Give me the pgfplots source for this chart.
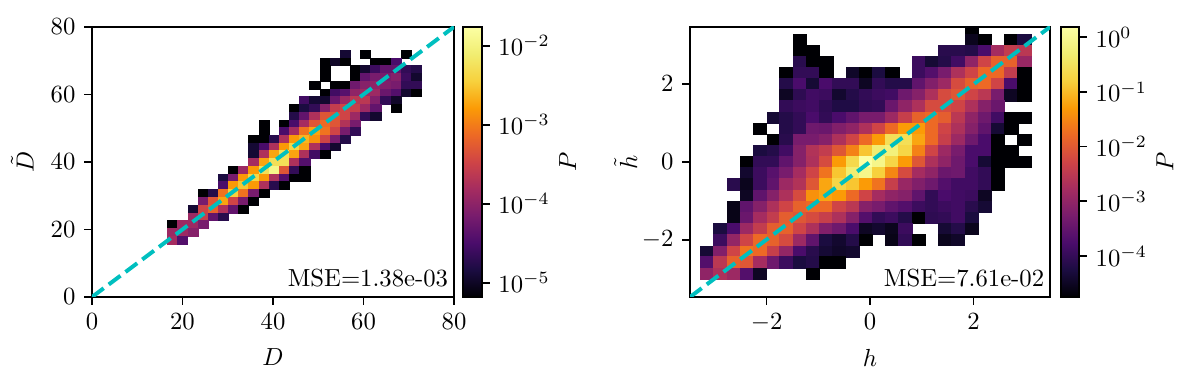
\documentclass[border=0pt]{standalone}
\usepackage{pgfplots}
\pgfplotsset{compat=1.18}

% rectangles the size of one histogram bin
\pgfdeclareplotmark{binD}{\pgfpathrectangle{\pgfpoint{-2.056pt}{-1.568pt}}{\pgfpoint{4.112pt}{3.136pt}}\pgfusepathqfillstroke}
\pgfdeclareplotmark{binH}{\pgfpathrectangle{\pgfpoint{-2.677pt}{-2.254pt}}{\pgfpoint{5.354pt}{4.508pt}}\pgfusepathqfillstroke}

\pgfplotsset{
  colormap={inferno}{rgb255=(0,0,4) rgb255=(27,12,65) rgb255=(74,12,107) rgb255=(120,28,109)
    rgb255=(165,44,96) rgb255=(207,68,70) rgb255=(237,105,37) rgb255=(251,155,6)
    rgb255=(247,209,61) rgb255=(241,237,113) rgb255=(252,255,164)},
  panel/.style={
    scale only axis,
    colormap name=inferno,
    axis line style={line width=0.7pt},
    tick style={line width=0.7pt, black},
    major tick length=3.2pt,
    tick align=outside,
    xtick pos=bottom, ytick pos=left,
    clip mode=individual,
    clip marker paths=true,
    colorbar,
    point meta=explicit,
  },
  cbar/.style={
    at={(parent axis.south east)}, anchor=south west,
    height=109.3pt,
    axis line style={line width=0.7pt},
    tick style={line width=0.7pt, black},
    major tick length=3.2pt,
    tick align=outside,
    ytick pos=right,
    ylabel={$P$},
    ylabel shift=-3pt,
  },
  bins/.style={only marks, scatter, mark=#1,
    scatter/use mapped color={draw=mapped color, fill=mapped color},
    mark options={line width=0.15pt}},
  ident/.style={line width=1.6pt, color={rgb,255:red,0;green,191;blue,191},
    dash pattern=on 5.9pt off 2.56pt, forget plot},
}

\begin{document}
\begin{tikzpicture}
\useasboundingbox (0,0) rectangle (484pt,156.6pt);

\begin{axis}[panel,
    at={(37.23pt,36.42pt)}, anchor=south west,
    width=146.5pt, height=109.3pt,
    xmin=0, xmax=80, ymin=0, ymax=80,
    xtick={0,20,40,60,80}, ytick={0,20,40,60,80},
    xlabel={$D$}, ylabel={$\tilde{D}$},
    xlabel style={yshift=-1pt},
    point meta min=-5.18, point meta max=-1.76,
    colorbar style={cbar, xshift=-5.0pt, width=7.7pt,
      ytick={-5,-4,-3,-2},
      yticklabels={$10^{-5}$,$10^{-4}$,$10^{-3}$,$10^{-2}$},
    },
]
\addplot[bins=binD] coordinates {
(56.0,72.0)[-4.91] (60.4,72.0)[-5.18] (69.4,72.0)[-5.18]
(51.5,69.7)[-5.18] (53.7,69.7)[-4.97] (56.0,69.7)[-5.18] (62.7,69.7)[-5.18] (64.9,69.7)[-5.18] (67.2,69.7)[-4.50]
(51.5,67.4)[-5.18] (58.2,67.4)[-5.18] (60.4,67.4)[-4.94] (62.7,67.4)[-4.60] (64.9,67.4)[-4.32] (67.2,67.4)[-4.32] (69.4,67.4)[-4.67] (71.7,67.4)[-4.77]
(51.5,65.1)[-5.18] (58.2,65.1)[-5.18] (60.4,65.1)[-4.32] (62.7,65.1)[-4.15] (64.9,65.1)[-4.15] (67.2,65.1)[-4.05] (69.4,65.1)[-4.60] (71.7,65.1)[-4.94]
(49.2,62.8)[-5.18] (53.7,62.8)[-5.18] (56.0,62.8)[-5.18] (58.2,62.8)[-4.22] (60.4,62.8)[-4.05] (62.7,62.8)[-3.98] (64.9,62.8)[-4.09] (67.2,62.8)[-4.15] (69.4,62.8)[-4.67] (71.7,62.8)[-4.67]
(51.5,60.5)[-5.18] (53.7,60.5)[-4.56] (56.0,60.5)[-4.39] (58.2,60.5)[-3.98] (60.4,60.5)[-3.88] (62.7,60.5)[-3.88] (64.9,60.5)[-4.26] (67.2,60.5)[-4.43] (69.4,60.5)[-4.94] (71.7,60.5)[-5.18]
(47.0,58.2)[-4.56] (49.2,58.2)[-4.91] (51.5,58.2)[-4.94] (53.7,58.2)[-4.26] (56.0,58.2)[-3.88] (58.2,58.2)[-3.64] (60.4,58.2)[-3.64] (62.7,58.2)[-4.09] (64.9,58.2)[-4.67] (67.2,58.2)[-4.97]
(44.7,55.9)[-5.18] (47.0,55.9)[-4.84] (49.2,55.9)[-4.67] (51.5,55.9)[-4.05] (53.7,55.9)[-3.57] (56.0,55.9)[-3.47] (58.2,55.9)[-3.54] (60.4,55.9)[-3.88] (62.7,55.9)[-4.32] (67.2,55.9)[-5.18]
(44.7,53.6)[-4.77] (47.0,53.6)[-4.32] (49.2,53.6)[-3.74] (51.5,53.6)[-3.30] (53.7,53.6)[-3.30] (56.0,53.6)[-3.47] (58.2,53.6)[-3.88] (60.4,53.6)[-4.67] (62.7,53.6)[-4.94]
(38.0,51.3)[-5.18] (42.5,51.3)[-5.18] (44.7,51.3)[-4.50] (47.0,51.3)[-3.81] (49.2,51.3)[-3.30] (51.5,51.3)[-3.13] (53.7,51.3)[-3.30] (56.0,51.3)[-3.71] (58.2,51.3)[-4.15]
(38.0,49.0)[-5.18] (42.5,49.0)[-4.50] (44.7,49.0)[-3.81] (47.0,49.0)[-3.06] (49.2,49.0)[-2.72] (51.5,49.0)[-3.06] (53.7,49.0)[-3.47] (56.0,49.0)[-4.15] (58.2,49.0)[-4.67]
(35.7,46.8)[-5.18] (38.0,46.8)[-5.18] (40.2,46.8)[-4.74] (42.5,46.8)[-3.74] (44.7,46.8)[-2.79] (47.0,46.8)[-2.62] (49.2,46.8)[-2.85] (51.5,46.8)[-3.47] (53.7,46.8)[-4.15] (56.0,46.8)[-4.77]
(35.7,44.5)[-4.91] (38.0,44.5)[-4.50] (40.2,44.5)[-3.74] (42.5,44.5)[-2.79] (44.7,44.5)[-2.38] (47.0,44.5)[-2.72] (49.2,44.5)[-3.74] (51.5,44.5)[-4.50] (53.7,44.5)[-4.94]
(35.7,42.2)[-4.91] (38.0,42.2)[-3.74] (40.2,42.2)[-2.72] (42.5,42.2)[-2.27] (44.7,42.2)[-2.72] (47.0,42.2)[-3.74] (49.2,42.2)[-4.56] (51.5,42.2)[-5.18]
(35.7,39.9)[-3.81] (38.0,39.9)[-2.72] (40.2,39.9)[-2.27] (42.5,39.9)[-2.27] (44.7,39.9)[-3.74] (47.0,39.9)[-4.43]
(31.2,37.6)[-5.18] (33.5,37.6)[-3.88] (35.7,37.6)[-2.79] (38.0,37.6)[-2.27] (40.2,37.6)[-1.93] (42.5,37.6)[-3.30] (44.7,37.6)[-4.67] (47.0,37.6)[-5.18]
(29.0,35.3)[-4.84] (31.2,35.3)[-4.15] (33.5,35.3)[-2.79] (35.7,35.3)[-2.38] (38.0,35.3)[-2.79] (40.2,35.3)[-3.74] (42.5,35.3)[-4.43] (44.7,35.3)[-5.18] (47.0,35.3)[-5.18]
(29.0,33.0)[-4.50] (31.2,33.0)[-2.79] (33.5,33.0)[-2.51] (35.7,33.0)[-2.79] (38.0,33.0)[-3.74] (40.2,33.0)[-4.74] (42.5,33.0)[-5.18]
(24.5,30.7)[-5.18] (26.8,30.7)[-4.77] (29.0,30.7)[-3.06] (31.2,30.7)[-2.44] (33.5,30.7)[-3.06] (35.7,30.7)[-4.15] (38.0,30.7)[-5.18]
(24.5,28.4)[-4.15] (26.8,28.4)[-3.30] (29.0,28.4)[-2.72] (31.2,28.4)[-3.47] (33.5,28.4)[-4.15] (35.7,28.4)[-5.18]
(22.3,26.1)[-4.91] (24.5,26.1)[-3.47] (26.8,26.1)[-3.20] (29.0,26.1)[-3.74] (31.2,26.1)[-4.32] (33.5,26.1)[-5.18]
(22.3,23.8)[-3.88] (24.5,23.8)[-3.54] (26.8,23.8)[-4.32] (29.0,23.8)[-4.74]
(17.8,21.5)[-5.18] (20.0,21.5)[-3.88] (22.3,21.5)[-3.88] (24.5,21.5)[-4.15]
(17.8,19.2)[-3.88] (20.0,19.2)[-3.88] (22.3,19.2)[-4.05]
(17.8,16.9)[-3.81] (20.0,16.9)[-4.43]
};
\addplot[ident] coordinates {(0,0) (80,80)};
\node[anchor=south east, inner sep=0pt] at (rel axis cs:0.985,0.035) {MSE=1.38e-03};
\end{axis}

\begin{axis}[panel,
    at={(279.24pt,36.42pt)}, anchor=south west,
    width=145.7pt, height=109.3pt,
    xmin=-3.48, xmax=3.48, ymin=-3.46, ymax=3.46,
    xtick={-2,0,2}, ytick={-2,0,2},
    xlabel={$h$}, ylabel={$\tilde{h}$},
    xlabel style={yshift=-0.5pt},
    ylabel shift=-5pt,
    point meta min=-4.75, point meta max=0.19,
    colorbar style={cbar, xshift=-4.2pt, width=7.4pt,
      ytick={-4,-3,-2,-1,0},
      yticklabels={$10^{-4}$,$10^{-3}$,$10^{-2}$,$10^{-1}$,$10^{0}$},
    },
]
\addplot[bins=binH] coordinates {
(1.96,3.42)[-4.75]
(-1.36,3.14)[-4.75] (1.96,3.14)[-4.55] (2.22,3.14)[-4.75] (2.73,3.14)[-4.75] (2.98,3.14)[-4.26]
(-1.36,2.85)[-4.75] (-1.11,2.85)[-4.75] (1.45,2.85)[-4.11] (1.70,2.85)[-4.11] (1.96,2.85)[-4.16] (2.22,2.85)[-3.76] (2.47,2.85)[-2.77] (2.73,2.85)[-2.43] (2.98,2.85)[-2.53]
(-1.36,2.57)[-4.11] (-1.11,2.57)[-4.75] (-0.85,2.57)[-4.75] (0.94,2.57)[-3.91] (1.19,2.57)[-4.35] (1.45,2.57)[-4.16] (1.70,2.57)[-3.86] (1.96,2.57)[-3.02] (2.22,2.57)[-2.28] (2.47,2.57)[-1.88] (2.73,2.57)[-1.88] (2.98,2.57)[-2.92]
(-1.62,2.28)[-4.75] (-1.36,2.28)[-4.01] (-1.11,2.28)[-4.01] (-0.85,2.28)[-4.75] (-0.34,2.28)[-4.45] (-0.09,2.28)[-4.75] (0.17,2.28)[-4.26] (0.43,2.28)[-4.75] (0.94,2.28)[-3.91] (1.19,2.28)[-3.66] (1.45,2.28)[-3.27] (1.70,2.28)[-2.68] (1.96,2.28)[-2.28] (2.22,2.28)[-1.79] (2.47,2.28)[-1.79] (2.73,2.28)[-2.43] (2.98,2.28)[-4.75]
(-1.62,2.00)[-4.16] (-1.36,2.00)[-3.76] (-1.11,2.00)[-4.35] (-0.85,2.00)[-3.76] (-0.60,2.00)[-4.01] (-0.34,2.00)[-4.01] (-0.09,2.00)[-4.50] (0.17,2.00)[-4.01] (0.43,2.00)[-4.16] (0.68,2.00)[-4.16] (0.94,2.00)[-3.52] (1.19,2.00)[-3.17] (1.45,2.00)[-2.87] (1.70,2.00)[-2.18] (1.96,2.00)[-1.88] (2.22,2.00)[-1.79] (2.47,2.00)[-2.28] (2.73,2.00)[-3.76] (2.98,2.00)[-4.75]
(-1.62,1.71)[-4.50] (-1.36,1.71)[-4.06] (-1.11,1.71)[-3.86] (-0.85,1.71)[-3.91] (-0.60,1.71)[-4.40] (-0.34,1.71)[-4.16] (-0.09,1.71)[-4.01] (0.17,1.71)[-3.91] (0.43,1.71)[-3.86] (0.68,1.71)[-3.37] (0.94,1.71)[-3.12] (1.19,1.71)[-2.68] (1.45,1.71)[-2.18] (1.70,1.71)[-2.03] (1.96,1.71)[-2.28] (2.22,1.71)[-2.53] (2.47,1.71)[-3.27] (2.73,1.71)[-4.50] (2.98,1.71)[-4.75]
(-1.62,1.43)[-4.01] (-1.36,1.43)[-3.91] (-1.11,1.43)[-3.86] (-0.85,1.43)[-4.06] (-0.60,1.43)[-4.21] (-0.34,1.43)[-4.21] (-0.09,1.43)[-4.06] (0.17,1.43)[-4.01] (0.43,1.43)[-3.42] (0.68,1.43)[-3.02] (0.94,1.43)[-2.68] (1.19,1.43)[-2.18] (1.45,1.43)[-2.18] (1.70,1.43)[-2.28] (1.96,1.43)[-2.68] (2.22,1.43)[-3.12] (2.47,1.43)[-3.42]
(-1.87,1.14)[-4.35] (-1.62,1.14)[-4.16] (-1.36,1.14)[-4.01] (-1.11,1.14)[-3.76] (-0.85,1.14)[-4.01] (-0.60,1.14)[-3.76] (-0.34,1.14)[-3.52] (-0.09,1.14)[-3.27] (0.17,1.14)[-3.27] (0.43,1.14)[-2.87] (0.68,1.14)[-2.38] (0.94,1.14)[-1.88] (1.19,1.14)[-1.79] (1.45,1.14)[-1.93] (1.70,1.14)[-2.53] (1.96,1.14)[-3.02] (2.22,1.14)[-3.37] (2.47,1.14)[-3.86] (2.73,1.14)[-4.75] (2.98,1.14)[-4.75]
(-2.13,0.85)[-4.75] (-1.62,0.85)[-4.16] (-1.36,0.85)[-4.01] (-1.11,0.85)[-3.37] (-0.85,0.85)[-3.42] (-0.60,0.85)[-3.17] (-0.34,0.85)[-3.02] (-0.09,0.85)[-2.68] (0.17,0.85)[-2.28] (0.43,0.85)[-1.79] (0.68,0.85)[-1.29] (0.94,0.85)[-1.29] (1.19,0.85)[-1.79] (1.45,0.85)[-2.28] (1.70,0.85)[-2.68] (1.96,0.85)[-3.12] (2.22,0.85)[-3.52] (2.47,0.85)[-4.35] (2.73,0.85)[-4.75]
(-1.87,0.57)[-4.75] (-1.62,0.57)[-4.11] (-1.36,0.57)[-3.27] (-1.11,0.57)[-3.27] (-0.85,0.57)[-3.12] (-0.60,0.57)[-2.68] (-0.34,0.57)[-2.28] (-0.09,0.57)[-1.79] (0.17,0.57)[-1.29] (0.43,0.57)[-0.55] (0.68,0.57)[-0.55] (0.94,0.57)[-1.19] (1.19,0.57)[-1.79] (1.45,0.57)[-2.38] (1.70,0.57)[-2.87] (1.96,0.57)[-3.37] (2.22,0.57)[-3.76] (2.47,0.57)[-4.75] (2.98,0.57)[-4.75]
(-2.13,0.28)[-4.26] (-1.87,0.28)[-4.16] (-1.62,0.28)[-3.86] (-1.36,0.28)[-3.12] (-1.11,0.28)[-2.63] (-0.85,0.28)[-2.43] (-0.60,0.28)[-2.03] (-0.34,0.28)[-1.54] (-0.09,0.28)[-0.90] (0.17,0.28)[-0.30] (0.43,0.28)[-0.20] (0.68,0.28)[-0.70] (0.94,0.28)[-1.54] (1.19,0.28)[-2.28] (1.45,0.28)[-2.87] (1.70,0.28)[-3.27] (1.96,0.28)[-3.76] (2.22,0.28)[-3.76] (2.47,0.28)[-4.75] (2.73,0.28)[-4.75]
(-2.39,0.00)[-4.75] (-2.13,0.00)[-4.01] (-1.87,0.00)[-4.01] (-1.62,0.00)[-3.52] (-1.36,0.00)[-3.12] (-1.11,0.00)[-2.68] (-0.85,0.00)[-2.18] (-0.60,0.00)[-1.29] (-0.34,0.00)[-0.65] (-0.09,0.00)[0.19] (0.17,0.00)[-0.06] (0.43,0.00)[-0.70] (0.68,0.00)[-1.29] (0.94,0.00)[-2.03] (1.19,0.00)[-2.68] (1.45,0.00)[-3.02] (1.70,0.00)[-3.37] (1.96,0.00)[-3.76] (2.22,0.00)[-4.35] (2.47,0.00)[-4.75] (2.73,0.00)[-4.75] (2.98,0.00)[-4.75]
(-2.39,-0.29)[-4.40] (-2.13,-0.29)[-3.91] (-1.87,-0.29)[-3.61] (-1.62,-0.29)[-3.27] (-1.36,-0.29)[-2.77] (-1.11,-0.29)[-2.28] (-0.85,-0.29)[-1.69] (-0.60,-0.29)[-0.90] (-0.34,-0.29)[-0.30] (-0.09,-0.29)[-0.06] (0.17,-0.29)[-0.80] (0.43,-0.29)[-1.49] (0.68,-0.29)[-2.18] (0.94,-0.29)[-2.77] (1.19,-0.29)[-3.02] (1.45,-0.29)[-3.42] (1.70,-0.29)[-3.37] (1.96,-0.29)[-3.86] (2.22,-0.29)[-4.01] (2.47,-0.29)[-4.75]
(-2.64,-0.57)[-4.11] (-2.39,-0.57)[-4.55] (-2.13,-0.57)[-3.91] (-1.87,-0.57)[-3.52] (-1.62,-0.57)[-2.87] (-1.36,-0.57)[-2.63] (-1.11,-0.57)[-2.03] (-0.85,-0.57)[-1.19] (-0.60,-0.57)[-0.70] (-0.34,-0.57)[-0.90] (-0.09,-0.57)[-1.29] (0.17,-0.57)[-1.69] (0.43,-0.57)[-2.38] (0.68,-0.57)[-2.92] (0.94,-0.57)[-3.17] (1.19,-0.57)[-3.37] (1.45,-0.57)[-3.66] (1.70,-0.57)[-3.86] (1.96,-0.57)[-3.86] (2.22,-0.57)[-4.01] (2.47,-0.57)[-4.75]
(-2.39,-0.86)[-4.50] (-2.13,-0.86)[-3.52] (-1.87,-0.86)[-3.12] (-1.62,-0.86)[-2.68] (-1.36,-0.86)[-2.18] (-1.11,-0.86)[-1.39] (-0.85,-0.86)[-1.19] (-0.60,-0.86)[-1.29] (-0.34,-0.86)[-1.79] (-0.09,-0.86)[-2.28] (0.17,-0.86)[-2.77] (0.43,-0.86)[-3.02] (0.68,-0.86)[-3.12] (0.94,-0.86)[-3.52] (1.19,-0.86)[-4.01] (1.45,-0.86)[-3.76] (1.70,-0.86)[-3.86] (1.96,-0.86)[-3.91] (2.22,-0.86)[-4.50]
(-2.64,-1.15)[-4.60] (-2.39,-1.15)[-3.52] (-2.13,-1.15)[-3.12] (-1.87,-1.15)[-2.68] (-1.62,-1.15)[-2.28] (-1.36,-1.15)[-1.88] (-1.11,-1.15)[-1.79] (-0.85,-1.15)[-1.79] (-0.60,-1.15)[-2.28] (-0.34,-1.15)[-2.53] (-0.09,-1.15)[-3.12] (0.17,-1.15)[-3.27] (0.43,-1.15)[-3.52] (0.68,-1.15)[-3.66] (0.94,-1.15)[-3.91] (1.19,-1.15)[-4.01] (1.45,-1.15)[-3.91] (1.70,-1.15)[-3.86] (1.96,-1.15)[-4.11] (2.22,-1.15)[-4.35]
(-2.64,-1.43)[-4.60] (-2.39,-1.43)[-3.42] (-2.13,-1.43)[-2.77] (-1.87,-1.43)[-2.43] (-1.62,-1.43)[-1.93] (-1.36,-1.43)[-2.03] (-1.11,-1.43)[-2.18] (-0.85,-1.43)[-2.38] (-0.60,-1.43)[-2.68] (-0.34,-1.43)[-3.12] (-0.09,-1.43)[-3.66] (0.17,-1.43)[-4.01] (0.43,-1.43)[-3.91] (0.68,-1.43)[-4.16] (0.94,-1.43)[-4.75] (1.19,-1.43)[-4.06] (1.45,-1.43)[-4.01] (1.70,-1.43)[-3.86] (1.96,-1.43)[-4.26]
(-2.90,-1.72)[-4.26] (-2.64,-1.72)[-3.76] (-2.39,-1.72)[-2.87] (-2.13,-1.72)[-2.43] (-1.87,-1.72)[-1.93] (-1.62,-1.72)[-1.88] (-1.36,-1.72)[-2.28] (-1.11,-1.72)[-2.68] (-0.85,-1.72)[-3.17] (-0.60,-1.72)[-3.37] (-0.34,-1.72)[-3.76] (-0.09,-1.72)[-4.50] (0.17,-1.72)[-4.40] (0.43,-1.72)[-4.55] (0.68,-1.72)[-3.91] (1.45,-1.72)[-4.35] (1.70,-1.72)[-4.16] (1.96,-1.72)[-4.55]
(-2.90,-2.00)[-3.91] (-2.64,-2.00)[-2.97] (-2.39,-2.00)[-2.28] (-2.13,-2.00)[-1.79] (-1.87,-2.00)[-1.88] (-1.62,-2.00)[-2.18] (-1.36,-2.00)[-2.87] (-1.11,-2.00)[-3.52] (-0.85,-2.00)[-4.26] (-0.60,-2.00)[-4.40] (-0.34,-2.00)[-4.16] (-0.09,-2.00)[-4.75] (0.43,-2.00)[-4.60] (0.68,-2.00)[-4.01] (0.94,-2.00)[-4.75] (1.45,-2.00)[-4.55] (1.70,-2.00)[-4.45]
(-3.15,-2.29)[-4.35] (-2.90,-2.29)[-3.17] (-2.64,-2.29)[-2.28] (-2.39,-2.29)[-1.69] (-2.13,-2.29)[-1.79] (-1.87,-2.29)[-2.38] (-1.62,-2.29)[-2.97] (-1.36,-2.29)[-3.76] (-1.11,-2.29)[-4.11] (-0.85,-2.29)[-4.35] (-0.60,-2.29)[-4.45] (-0.34,-2.29)[-4.40]
(-3.15,-2.57)[-3.66] (-2.90,-2.57)[-2.53] (-2.64,-2.57)[-1.88] (-2.39,-2.57)[-2.03] (-2.13,-2.57)[-2.77] (-1.87,-2.57)[-3.37] (-1.62,-2.57)[-3.91] (-1.36,-2.57)[-4.26] (-1.11,-2.57)[-4.16] (-0.85,-2.57)[-4.75] (-0.60,-2.57)[-4.75]
(-3.15,-2.86)[-3.02] (-2.90,-2.86)[-2.68] (-2.64,-2.86)[-2.87] (-2.39,-2.86)[-3.66] (-2.13,-2.86)[-4.50] (-1.11,-2.86)[-4.75]
};
\addplot[ident] coordinates {(-3.48,-3.46) (3.48,3.46)};
\node[anchor=south east, inner sep=0pt] at (rel axis cs:0.985,0.035) {MSE=7.61e-02};
\end{axis}
\end{tikzpicture}
\end{document}
